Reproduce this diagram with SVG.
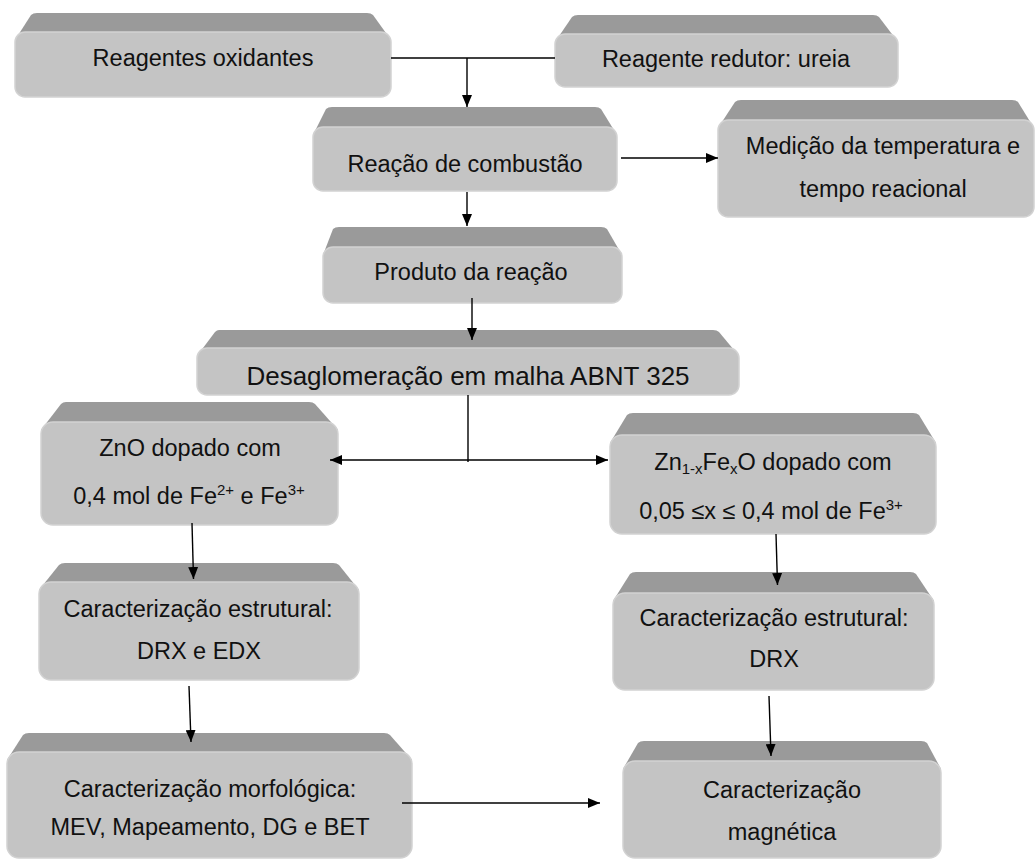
<svg xmlns="http://www.w3.org/2000/svg" width="1035" height="861" viewBox="0 0 1035 861">
<defs>
<style>
.top{fill:#9a9a9a;}
.front{fill:#c4c4c4;stroke:#d2d2d2;stroke-width:1.5;}
text{font-family:"Liberation Sans",Arial,sans-serif;font-size:23.5px;fill:#111;text-anchor:middle;}
.big{font-size:26px;}
.conn{stroke:#000;stroke-width:1.4;fill:none;}
.sup{font-size:15px;baseline-shift:9px;}
.sub{font-size:15px;baseline-shift:-4px;}
</style>
<marker id="ah" markerUnits="userSpaceOnUse" markerWidth="12" markerHeight="10" refX="12" refY="5" orient="auto">
<path d="M0,0 L12,5 L0,10 Z" fill="#000"/>
</marker>
</defs>
<rect width="1035" height="861" fill="#fff"/>

<g id="nodeA">
<path class="top" d="M37,13 H367 Q371,13 373,15 L391,40 V50 H15 V40 L31,15 Q33,13 37,13 Z"/>
<rect class="front" x="15" y="32" width="376" height="65" rx="10"/>
<text x="203" y="66">Reagentes oxidantes</text>
</g>

<g id="nodeB">
<path class="top" d="M578,15 H873 Q877,15 879,17 L898,42 V52 H555 V42 L572,17 Q574,15 578,15 Z"/>
<rect class="front" x="555" y="34" width="343" height="53" rx="10"/>
<text x="726" y="67">Reagente redutor: ureia</text>
</g>

<g id="nodeC">
<path class="top" d="M332,107 H595 Q599,107 601,109 L617,135 V145 H313 V135 L326,109 Q328,107 332,107 Z"/>
<rect class="front" x="313" y="127" width="304" height="64" rx="10"/>
<text x="465" y="172">Reação de combustão</text>
</g>

<g id="nodeD">
<path class="top" d="M741,100 H1012 Q1016,100 1018,102 L1034,128 V138 H718 V128 L735,102 Q737,100 741,100 Z"/>
<rect class="front" x="718" y="120" width="316" height="97" rx="10"/>
<text x="883" y="154">Medição da temperatura e</text>
<text x="883" y="197">tempo reacional</text>
</g>

<g id="nodeE">
<path class="top" d="M339,227 H601 Q605,227 607,229 L622,255 V265 H323 V255 L333,229 Q335,227 339,227 Z"/>
<rect class="front" x="323" y="247" width="299" height="56" rx="10"/>
<text x="471" y="280">Produto da reação</text>
</g>

<g id="nodeF">
<path class="top" d="M219,330 H713 Q717,330 719,332 L739,356 V366 H197 V356 L215,332 Q217,330 219,330 Z"/>
<rect class="front" x="197" y="348" width="542" height="47" rx="10"/>
<text class="big" x="468" y="385">Desaglomeração em malha ABNT 325</text>
</g>

<g id="nodeG">
<path class="top" d="M66,402 H309 Q313,402 315,404 L338,430 V440 H41 V430 L61,404 Q63,402 66,402 Z"/>
<rect class="front" x="41" y="422" width="297" height="103" rx="12"/>
<text x="190" y="456">ZnO dopado com</text>
<text x="189" y="504">0,4 mol de Fe<tspan class="sup">2+</tspan> e Fe<tspan class="sup">3+</tspan></text>
</g>

<g id="nodeI">
<path class="top" d="M633,413 H913 Q917,413 919,415 L936,443 V453 H610 V443 L627,415 Q629,413 633,413 Z"/>
<rect class="front" x="610" y="435" width="326" height="99" rx="12"/>
<text x="773" y="470">Zn<tspan class="sub">1-x</tspan>Fe<tspan class="sub">x</tspan>O dopado com</text>
<text x="771" y="519">0,05 ≤x ≤ 0,4 mol de Fe<tspan class="sup">3+</tspan></text>
</g>

<g id="nodeH">
<path class="top" d="M65,563 H333 Q337,563 339,565 L359,590 V600 H39 V590 L59,565 Q61,563 65,563 Z"/>
<rect class="front" x="39" y="582" width="320" height="98" rx="12"/>
<text x="198" y="617">Caracterização estrutural:</text>
<text x="199" y="659">DRX e EDX</text>
</g>

<g id="nodeJ">
<path class="top" d="M636,572 H910 Q914,572 916,574 L934,601 V611 H613 V601 L630,574 Q632,572 636,572 Z"/>
<rect class="front" x="613" y="593" width="321" height="97" rx="12"/>
<text x="774" y="626">Caracterização estrutural:</text>
<text x="774" y="667">DRX</text>
</g>

<g id="nodeK">
<path class="top" d="M29,733 H384 Q388,733 390,735 L412,760 V770 H7 V760 L23,735 Q25,733 29,733 Z"/>
<rect class="front" x="7" y="752" width="405" height="106" rx="12"/>
<text x="210" y="797">Caracterização morfológica:</text>
<text x="210" y="835">MEV, Mapeamento, DG e BET</text>
</g>

<g id="nodeL">
<path class="top" d="M644,741 H921 Q925,741 927,743 L941,769 V779 H623 V769 L638,743 Q640,741 644,741 Z"/>
<rect class="front" x="623" y="761" width="318" height="97" rx="12"/>
<text x="782" y="798">Caracterização</text>
<text x="782" y="840">magnética</text>
</g>

<g id="connectors">
<path class="conn" d="M391,58 H555"/>
<path class="conn" d="M467,58 V107" marker-end="url(#ah)"/>
<path class="conn" d="M621,158 H718" marker-end="url(#ah)"/>
<path class="conn" d="M467,192 V226" marker-end="url(#ah)"/>
<path class="conn" d="M472,298 V340" marker-end="url(#ah)"/>
<path class="conn" d="M468,395 V462"/>
<path class="conn" d="M468,460 H330" marker-end="url(#ah)"/>
<path class="conn" d="M468,460 H608" marker-end="url(#ah)"/>
<path class="conn" d="M192,523 L193.5,579" marker-end="url(#ah)"/>
<path class="conn" d="M776,534 L777.5,585" marker-end="url(#ah)"/>
<path class="conn" d="M189,686 L191,742" marker-end="url(#ah)"/>
<path class="conn" d="M769,696 L771,756" marker-end="url(#ah)"/>
<path class="conn" d="M402,803 H600" marker-end="url(#ah)"/>
</g>
</svg>
